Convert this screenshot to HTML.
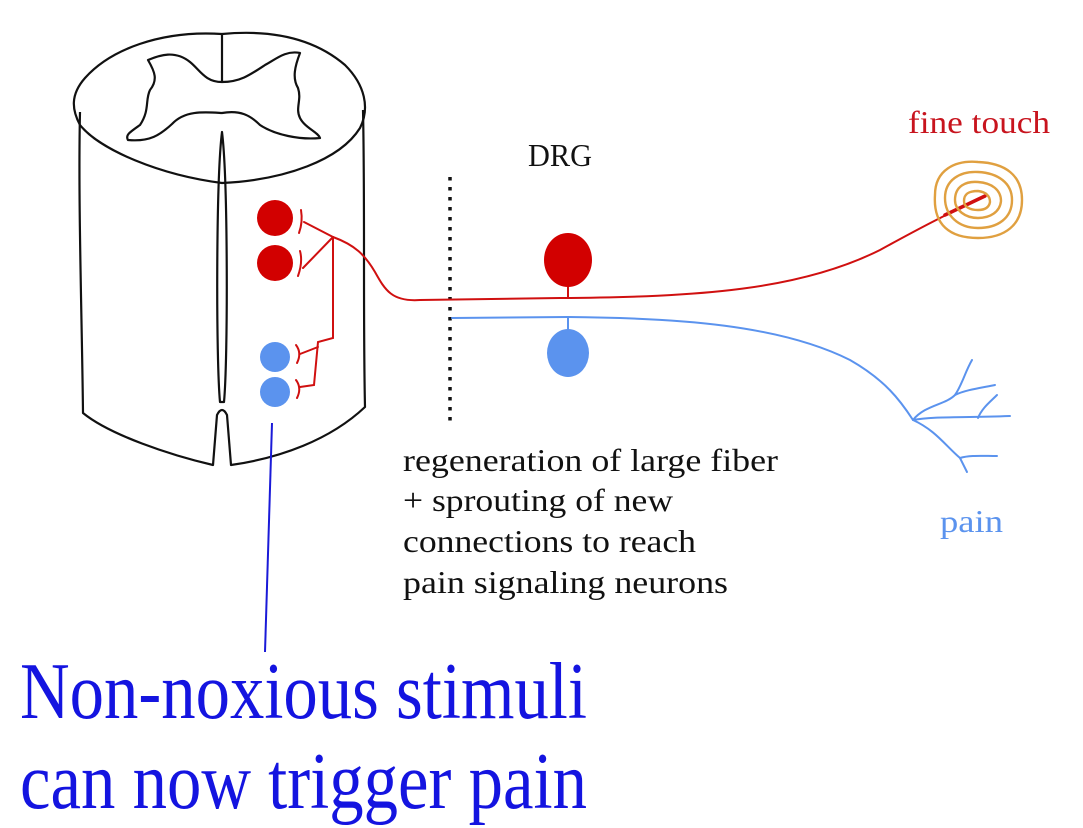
<!DOCTYPE html>
<html><head><meta charset="utf-8"><style>
html,body{margin:0;padding:0;background:#fff;}
svg{display:block;}
text{font-family:"Liberation Serif",serif;}
</style></head><body>
<svg width="1083" height="828" viewBox="0 0 1083 828" xmlns="http://www.w3.org/2000/svg">
<!-- cylinder -->
<g fill="none" stroke="#111" stroke-width="2.2" stroke-linejoin="round">
<path d="M222 34 C160 30 110 50 85 78 C70 95 72 110 80 125 C100 150 160 175 222 183 C285 180 340 160 360 128 C370 108 365 85 345 65 C310 35 265 30 222 34 Z"/>
<path d="M80 112 C78 200 82 320 83 413 C110 435 170 455 213 465 L217 415 Q222 405 227 415 L231 465 C280 458 330 440 365 407 C363 320 365 200 363 110"/>
<path d="M222 34 C222 50 222 66 222 82"/>
<path d="M222 82 C205 82 200 70 190 62 C175 50 160 55 148 60 C155 72 158 80 150 90 C145 100 150 110 140 125 C130 132 125 135 128 140 C150 142 160 135 172 124 C185 110 205 112 222 113 C240 110 250 115 260 125 C275 135 300 140 320 138 C318 132 305 128 300 118 C295 108 302 100 298 88 C292 78 295 66 300 53 C285 50 275 60 265 65 C250 75 240 82 222 82 Z"/>
<path d="M222 132 C216 180 216 360 220 402 L224 402 C228 360 228 180 222 132 Z"/>
</g>
<!-- dotted line -->
<line x1="450" y1="177" x2="450" y2="424" stroke="#111" stroke-width="3.5" stroke-dasharray="3.5 6.5"/>
<!-- red fiber -->
<g fill="none" stroke="#d01010" stroke-width="2" stroke-linecap="round">
<path d="M333 237 C355 245 365 255 375 272 C385 290 392 302 420 300 L560 298 C700 297 800 290 880 250 C920 228 945 215 985 196"/>
<path d="M945 215 L985 196" stroke-width="3.5"/>
<path d="M333 237 L304 222"/><path d="M301 210 Q303 222 299 233"/>
<path d="M333 237 L303 268"/><path d="M300 251 Q303 262 298 276"/>
<path d="M333 237 L333 338 L318 342 L314 385 L300 387"/>
<path d="M318 347 L300 354"/>
<path d="M296 345 Q302 353 297 363"/><path d="M296 380 Q302 388 297 398"/>
<path d="M568 298 L568 285"/>
</g>
<!-- blue fiber -->
<g fill="none" stroke="#5b93ee" stroke-width="2" stroke-linecap="round">
<path d="M452 318 L568 317 C680 318 780 325 850 360 C885 380 900 400 913 420"/>
<path d="M568 318 L568 330"/>
<path d="M913 420 C925 405 945 405 955 395 C962 385 965 372 972 360"/>
<path d="M955 395 C965 390 980 388 995 385"/>
<path d="M913 420 C935 416 960 418 1010 416"/>
<path d="M978 418 C982 408 990 402 997 395"/>
<path d="M913 420 C935 430 945 445 960 458 L967 472"/>
<path d="M960 458 C970 455 982 456 997 456"/>
</g>
<!-- cells -->
<circle cx="275" cy="218" r="18" fill="#d20000"/>
<circle cx="275" cy="263" r="18" fill="#d20000"/>
<circle cx="275" cy="357" r="15" fill="#5b93ee"/>
<circle cx="275" cy="392" r="15" fill="#5b93ee"/>
<ellipse cx="568" cy="260" rx="24" ry="27" fill="#d20000"/>
<ellipse cx="568" cy="353" rx="21" ry="24" fill="#5b93ee"/>
<!-- fingerprint -->
<g fill="none" stroke="#e0a040" stroke-width="2.4">
<path d="M935 195 C935 170 955 160 978 162 C1005 163 1022 175 1022 200 C1022 225 1005 238 978 238 C950 238 933 225 935 195 Z"/>
<path d="M945 198 C945 180 960 171 978 172 C998 173 1012 183 1012 200 C1012 218 998 228 978 228 C958 228 945 215 945 198 Z"/>
<path d="M955 200 C955 186 966 181 978 182 C992 183 1001 190 1001 201 C1000 212 990 218 978 218 C965 218 955 210 955 200 Z"/>
<path d="M964 201 C964 193 970 191 978 191 C986 192 990 196 990 202 C989 208 984 210 978 210 C970 210 964 207 964 201 Z"/>
</g>
<!-- pointer line -->
<line x1="272" y1="423" x2="265" y2="652" stroke="#1a1ad8" stroke-width="2"/>
<!-- text -->
<text x="528" y="166" font-size="32" fill="#111" textLength="64" lengthAdjust="spacingAndGlyphs">DRG</text>
<text x="908" y="133" font-size="32" fill="#c8141e" textLength="142" lengthAdjust="spacingAndGlyphs">fine touch</text>
<text x="940" y="532" font-size="32" fill="#5b93ee" textLength="63" lengthAdjust="spacingAndGlyphs">pain</text>
<g font-size="32" fill="#111">
<text x="403" y="471" textLength="375" lengthAdjust="spacingAndGlyphs">regeneration of large fiber</text>
<text x="403" y="511" textLength="270" lengthAdjust="spacingAndGlyphs">+ sprouting of new</text>
<text x="403" y="552" textLength="293" lengthAdjust="spacingAndGlyphs">connections to reach</text>
<text x="403" y="593" textLength="325" lengthAdjust="spacingAndGlyphs">pain signaling neurons</text>
</g>
<g font-size="80" fill="#1414e0">
<text x="20" y="718" textLength="567" lengthAdjust="spacingAndGlyphs">Non-noxious stimuli</text>
<text x="20" y="808" textLength="567" lengthAdjust="spacingAndGlyphs">can now trigger pain</text>
</g>
</svg>
</body></html>
